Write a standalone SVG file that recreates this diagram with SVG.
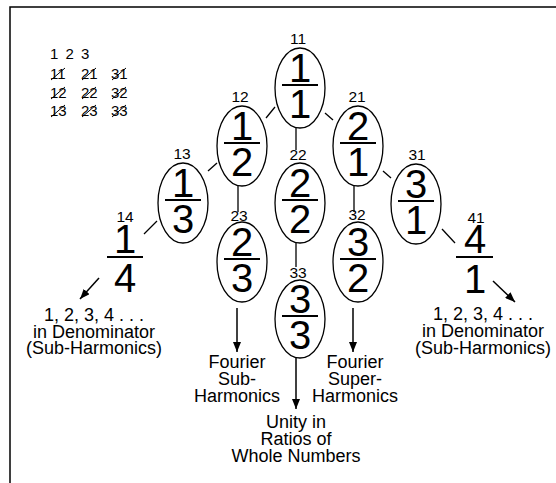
<svg xmlns="http://www.w3.org/2000/svg" width="556" height="483" viewBox="0 0 556 483">
<defs>
<marker id="ah" viewBox="0 0 10 8" refX="10" refY="4" markerWidth="10" markerHeight="8" markerUnits="userSpaceOnUse" orient="auto">
<path d="M0,0 L10,4 L0,8 Z" fill="#000"/>
</marker>
</defs>
<style>
text{font-family:"Liberation Sans",Arial,Helvetica,sans-serif;fill:#000}
.big{font-size:40px;text-anchor:middle}
.lab{font-size:15.5px;text-anchor:middle}
.txt{font-size:18px;text-anchor:middle}
.tab{font-size:15px}
.ell{fill:#fff;stroke:#000;stroke-width:1.3}
.bar{stroke:#000;stroke-width:2}
.con{stroke:#000;stroke-width:1.3;fill:none}
.arr{stroke:#000;stroke-width:1.5;fill:none;marker-end:url(#ah)}
.sl{stroke:#000;stroke-width:1}
</style>
<rect width="556" height="483" fill="#fff"/>
<polyline points="10,483 10,7 556,7" fill="none" stroke="#000" stroke-width="1.5"/>

<g id="legend">
<text class="tab" x="50" y="59" letter-spacing="1.5">1 2 3</text>
<text class="tab" x="50" y="79">11</text><line class="sl" x1="51" y1="80" x2="65" y2="68"/>
<text class="tab" x="81" y="79">21</text><line class="sl" x1="82" y1="80" x2="96" y2="68"/>
<text class="tab" x="111" y="79">31</text><line class="sl" x1="112" y1="80" x2="126" y2="68"/>
<text class="tab" x="50" y="98">12</text><line class="sl" x1="51" y1="99" x2="65" y2="87"/>
<text class="tab" x="81" y="98">22</text><line class="sl" x1="82" y1="99" x2="96" y2="87"/>
<text class="tab" x="111" y="98">32</text><line class="sl" x1="112" y1="99" x2="126" y2="87"/>
<text class="tab" x="50" y="116">13</text><line class="sl" x1="51" y1="117" x2="65" y2="105"/>
<text class="tab" x="81" y="116">23</text><line class="sl" x1="82" y1="117" x2="96" y2="105"/>
<text class="tab" x="111" y="116">33</text><line class="sl" x1="112" y1="117" x2="126" y2="105"/>
</g>

<g id="connectors">
<line class="con" x1="266" y1="118" x2="275" y2="107"/>
<line class="con" x1="325" y1="113" x2="333" y2="120"/>
<line class="con" x1="208" y1="171" x2="217" y2="163"/>
<line class="con" x1="383" y1="171" x2="391" y2="178"/>
<line class="con" x1="144" y1="234" x2="157" y2="221"/>
<line class="con" x1="442" y1="229" x2="455" y2="243"/>
<line class="con" x1="296" y1="128" x2="296" y2="150"/>
<line class="con" x1="238" y1="186" x2="238" y2="212"/>
<line class="con" x1="354" y1="186" x2="354" y2="212"/>
<line class="con" x1="296" y1="243" x2="296" y2="267"/>
<line class="arr" x1="99" y1="278" x2="80" y2="299"/>
<line class="arr" x1="493" y1="281" x2="515" y2="302"/>
<line class="arr" x1="237" y1="308" x2="237" y2="352"/>
<line class="arr" x1="353" y1="308" x2="353" y2="352"/>
<line class="arr" x1="296" y1="358" x2="296" y2="409"/>
</g>

<g id="n11">
<text class="lab" x="298" y="44">11</text>
<ellipse class="ell" cx="300" cy="88" rx="25" ry="40"/>
<text class="big" x="300" y="82">1</text>
<line class="bar" x1="282" y1="85" x2="318" y2="85"/>
<text class="big" x="300" y="118">1</text>
</g>
<g id="n12">
<text class="lab" x="240" y="102">12</text>
<ellipse class="ell" cx="242" cy="146" rx="25" ry="40"/>
<text class="big" x="242" y="140">1</text>
<line class="bar" x1="224" y1="143" x2="260" y2="143"/>
<text class="big" x="242" y="176">2</text>
</g>
<g id="n21">
<text class="lab" x="357" y="102">21</text>
<ellipse class="ell" cx="358" cy="146" rx="25" ry="40"/>
<text class="big" x="358" y="140">2</text>
<line class="bar" x1="340" y1="143" x2="376" y2="143"/>
<text class="big" x="358" y="176">1</text>
</g>
<g id="n13">
<text class="lab" x="182" y="159">13</text>
<ellipse class="ell" cx="183" cy="203" rx="25" ry="40"/>
<text class="big" x="183" y="197">1</text>
<line class="bar" x1="165" y1="200" x2="201" y2="200"/>
<text class="big" x="183" y="233">3</text>
</g>
<g id="n22">
<text class="lab" x="298" y="160">22</text>
<ellipse class="ell" cx="300" cy="203" rx="25" ry="40"/>
<text class="big" x="300" y="197">2</text>
<line class="bar" x1="282" y1="200" x2="318" y2="200"/>
<text class="big" x="300" y="233">2</text>
</g>
<g id="n31">
<text class="lab" x="417" y="160">31</text>
<ellipse class="ell" cx="416" cy="204" rx="25" ry="40"/>
<text class="big" x="416" y="198">3</text>
<line class="bar" x1="398" y1="201" x2="434" y2="201"/>
<text class="big" x="416" y="234">1</text>
</g>
<g id="n23">
<text class="lab" x="239" y="221">23</text>
<ellipse class="ell" cx="242" cy="262" rx="25" ry="40"/>
<text class="big" x="242" y="256">2</text>
<line class="bar" x1="224" y1="259" x2="260" y2="259"/>
<text class="big" x="242" y="292">3</text>
</g>
<g id="n32">
<text class="lab" x="357" y="220">32</text>
<ellipse class="ell" cx="358" cy="262" rx="25" ry="40"/>
<text class="big" x="358" y="256">3</text>
<line class="bar" x1="340" y1="259" x2="376" y2="259"/>
<text class="big" x="358" y="292">2</text>
</g>
<g id="n33">
<text class="lab" x="298" y="278">33</text>
<ellipse class="ell" cx="300" cy="319" rx="25" ry="39"/>
<text class="big" x="300" y="313">3</text>
<line class="bar" x1="282" y1="316" x2="318" y2="316"/>
<text class="big" x="300" y="349">3</text>
</g>
<g id="n14">
<text class="lab" x="125" y="222">14</text>
<text class="big" x="125" y="253">1</text>
<line class="bar" x1="107" y1="257" x2="143" y2="257"/>
<text class="big" x="125" y="292">4</text>
</g>
<g id="n41">
<text class="lab" x="476" y="223">41</text>
<text class="big" x="475" y="253">4</text>
<line class="bar" x1="456" y1="257" x2="493" y2="257"/>
<text class="big" x="475" y="293">1</text>
</g>

<g id="t-left">
<text class="txt" x="94" y="321">1, 2, 3, 4 . . .</text>
<text class="txt" x="94" y="337.5">in Denominator</text>
<text class="txt" x="94" y="354">(Sub-Harmonics)</text>
</g>
<g id="t-right">
<text class="txt" x="483" y="320">1, 2, 3, 4 . . .</text>
<text class="txt" x="483" y="337">in Denominator</text>
<text class="txt" x="483" y="354">(Sub-Harmonics)</text>
</g>
<g id="t-sub">
<text class="txt" x="237" y="368">Fourier</text>
<text class="txt" x="237" y="385">Sub-</text>
<text class="txt" x="237" y="402">Harmonics</text>
</g>
<g id="t-super">
<text class="txt" x="355" y="368">Fourier</text>
<text class="txt" x="355" y="385">Super-</text>
<text class="txt" x="355" y="402">Harmonics</text>
</g>
<g id="t-unity">
<text class="txt" x="296" y="428">Unity in</text>
<text class="txt" x="296" y="445">Ratios of</text>
<text class="txt" x="296" y="462">Whole Numbers</text>
</g>
</svg>
